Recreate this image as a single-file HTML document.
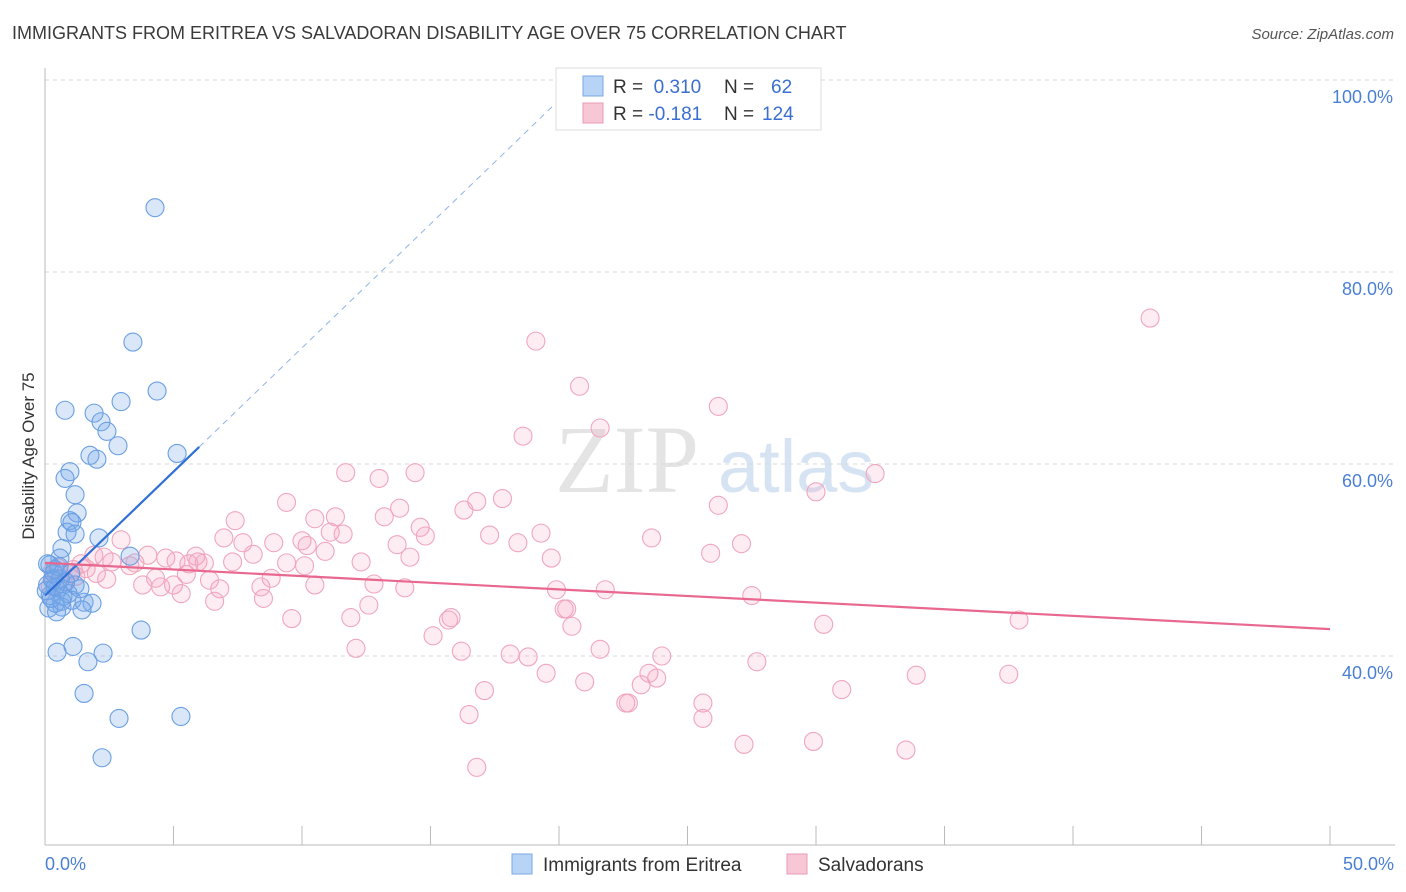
<!DOCTYPE html>
<html><head><meta charset="utf-8">
<style>
body{margin:0;background:#fff;font-family:"Liberation Sans",sans-serif;}
svg{display:block}
</style></head>
<body>
<svg id="chart" width="1406" height="892" xmlns="http://www.w3.org/2000/svg">
<text x="12" y="39" font-size="18" fill="#3a3a3a" font-family="Liberation Sans, sans-serif">IMMIGRANTS FROM ERITREA VS SALVADORAN DISABILITY AGE OVER 75 CORRELATION CHART</text>
<text x="1394" y="39" font-size="15" fill="#555" text-anchor="end" font-style="italic">Source: ZipAtlas.com</text>
<text x="555" y="492" font-size="96" fill="#e4e4e4" font-family="Liberation Serif, serif">ZIP</text>
<text x="718" y="492" font-size="74" fill="#d6e3f3">atlas</text>
<g id="grid"></g>
<g id="axes"></g>
<g id="pts"></g>
<g id="lines"></g>
<text transform="translate(34,456) rotate(-90)" font-size="17" fill="#333" text-anchor="middle">Disability Age Over 75</text>
<text x="45" y="870" font-size="18" fill="#4a7fd4">0.0%</text>
<text x="1394" y="870" font-size="18" fill="#4a7fd4" text-anchor="end">50.0%</text>
<g>
<rect x="556" y="68" width="265" height="62" fill="#fff" stroke="#ddd"/>
<rect x="583" y="76" width="20" height="20" fill="#b7d3f5" stroke="#7aa8e6"/>
<rect x="583" y="103" width="20" height="20" fill="#f8c7d5" stroke="#eb9ab3"/>
<text x="613" y="93" font-size="19" fill="#333">R = <tspan fill="#3a6fd0">&#160;0.310</tspan><tspan x="724">N = </tspan><tspan x="771" fill="#3a6fd0">62</tspan></text>
<text x="613" y="120" font-size="19" fill="#333">R = <tspan fill="#3a6fd0">-0.181</tspan><tspan x="724">N = </tspan><tspan x="762" fill="#3a6fd0">124</tspan></text>
</g>
<g>
<rect x="512" y="854" width="20" height="20" fill="#b7d3f5" stroke="#7aa8e6"/>
<text x="543" y="871" font-size="19" fill="#333">Immigrants from Eritrea</text>
<rect x="787" y="854" width="20" height="20" fill="#f8c7d5" stroke="#eb9ab3"/>
<text x="818" y="871" font-size="19" fill="#333">Salvadorans</text>
</g>
</svg>
<script>
const yTicks=[100,80,60,40];
const yTickLabels=["100.0%","80.0%","60.0%","40.0%"];
const xTicks=[0,5,10,15,20,25,30,35,40,45,50];
const blueX=[4.28,3.42,4.36,2.96,0.78,1.91,2.18,2.41,2.84,1.75,2.02,5.14,0.97,0.78,1.17,1.25,0.97,1.05,0.86,1.17,2.1,0.66,0.58,3.31,0.19,0.39,1.17,1.36,0.9,1.05,1.52,1.83,0.66,1.44,3.74,0.47,1.09,2.26,1.67,1.52,2.88,5.29,2.22,0.4,0.2,0.1,0.3,0.5,0.7,0.05,0.35,0.6,0.15,0.8,0.45,0.25,0.55,1.0,0.1,0.3,0.65,0.4];
const blueY=[86.7,72.7,67.6,66.5,65.6,65.3,64.4,63.4,61.9,60.9,60.5,61.1,59.2,58.5,56.8,54.9,54.1,53.9,52.9,52.7,52.3,51.2,50.2,50.4,49.5,49.0,47.4,47.0,46.5,45.8,45.6,45.5,45.1,44.8,42.7,40.4,41.0,40.3,39.4,36.1,33.5,33.7,29.4,45.5,46.3,47.4,48.1,47.1,46.2,46.8,48.6,48.0,45.0,47.7,44.6,46.0,49.3,48.6,49.6,47.9,45.7,47.2];
const pinkX=[43.0,19.1,20.8,26.2,18.6,21.6,32.3,11.7,14.4,13.0,30.0,9.4,16.8,17.8,16.3,13.8,26.2,7.4,10.5,11.3,13.2,14.6,11.1,11.6,17.3,19.3,14.8,23.6,27.1,2.96,6.96,7.7,8.9,10.0,10.2,10.9,13.7,18.4,14.2,19.7,25.9,8.1,5.87,4.0,4.7,5.1,5.95,7.3,9.4,10.1,12.3,6.2,5.6,1.9,2.3,2.6,3.3,3.5,1.4,1.6,1.0,0.6,2.0,4.3,5.5,6.4,8.8,4.5,5.0,3.8,8.4,10.5,12.8,14.0,6.8,5.3,8.5,6.6,19.9,21.8,27.5,12.6,20.2,20.3,9.6,11.9,15.7,15.8,20.5,30.3,37.9,15.1,12.1,16.2,18.1,21.6,18.8,24.0,27.7,19.5,23.5,23.8,33.9,37.5,21.0,23.2,17.1,31.0,22.6,22.7,25.6,16.5,25.6,27.2,29.9,33.5,16.8,0.3,0.8,1.2,0.5,2.4,0.2,1.1];
const pinkY=[75.2,72.8,68.1,66.0,62.9,63.75,59.0,59.1,59.1,58.5,57.1,56.0,56.1,56.4,55.2,55.4,55.7,54.1,54.3,54.5,54.5,53.4,52.9,52.7,52.6,52.8,52.5,52.3,51.7,52.1,52.3,51.8,51.8,52.0,51.5,50.9,51.6,51.8,50.3,50.2,50.7,50.6,50.4,50.5,50.2,49.9,49.8,49.8,49.7,49.4,49.8,49.7,49.6,50.5,50.3,49.8,49.4,49.7,49.6,49.1,48.6,48.1,48.6,48.1,48.5,47.9,48.1,47.2,47.4,47.4,47.2,47.4,47.5,47.1,47.0,46.5,46.0,45.7,46.9,46.9,46.3,45.3,44.9,44.9,43.9,44.0,43.75,44.0,43.1,43.3,43.75,42.1,40.8,40.5,40.2,40.7,39.9,40.0,39.4,38.2,38.2,37.7,38.0,38.1,37.3,37.0,36.4,36.5,35.1,35.1,35.1,33.9,33.5,30.8,31.1,30.2,28.4,48.9,47.8,48.3,49.2,48.0,47.3,49.0];
const blueTrend=[46.3,2.58];
const pinkTrend=[49.7,-0.138];
const NS="http://www.w3.org/2000/svg";
const X=v=>45+v*25.7, Y=v=>80+(100-v)*9.6;
function mk(t,a,p){const e=document.createElementNS(NS,t);for(const k in a)e.setAttribute(k,a[k]);document.getElementById(p).appendChild(e);return e;}
yTicks.forEach((t,i)=>{
 const l=mk('line',{x1:45,x2:1395,y1:Y(t),y2:Y(t),stroke:'#d8d8d8','stroke-dasharray':'4,4'},'grid');
 
 
 const tx=mk('text',{x:1393,y:Y(t)+23,'font-size':18,fill:'#4a7fd4','text-anchor':'end'},'grid');
 tx.textContent=yTickLabels[i];
 
 
});
const ax=mk('line',{x1:45,x2:45,y1:68,y2:845,stroke:'#bbb'},'axes');


const bx=mk('line',{x1:45,x2:1395,y1:845,y2:845,stroke:'#bbb'},'axes');


xTicks.forEach(t=>{
 const l=mk('line',{x1:X(t),x2:X(t),y1:826,y2:845,stroke:'#bbb'},'axes');
 
 
});
pinkX.forEach((x,i)=>{
 const c=mk('circle',{cx:X(x),cy:Y(pinkY[i]),r:9,fill:'rgba(244,160,188,0.2)',stroke:'#f0a6bd','stroke-width':1.1},'pts');
 
 
});
blueX.forEach((x,i)=>{
 const c=mk('circle',{cx:X(x),cy:Y(blueY[i]),r:9,fill:'rgba(120,170,235,0.28)',stroke:'#6a9fe3','stroke-width':1.1},'pts');
 
 
});
const bEnd=6.0, bDashEnd=(100-blueTrend[0])/blueTrend[1];
const b1=mk('line',{x1:X(0),y1:Y(blueTrend[0]),x2:X(bEnd),y2:Y(blueTrend[0]+blueTrend[1]*bEnd),stroke:'#2f6fd6','stroke-width':2.2},'lines');


const b2=mk('line',{x1:X(bEnd),y1:Y(blueTrend[0]+blueTrend[1]*bEnd),x2:X(bDashEnd),y2:Y(100),stroke:'#8fb3e8','stroke-width':1,'stroke-dasharray':'6,5'},'lines');


const p1=mk('line',{x1:X(0),y1:Y(pinkTrend[0]),x2:X(50),y2:Y(pinkTrend[0]+pinkTrend[1]*50),stroke:'#e8688f','stroke-width':2.2},'lines');


</script>
</body></html>
